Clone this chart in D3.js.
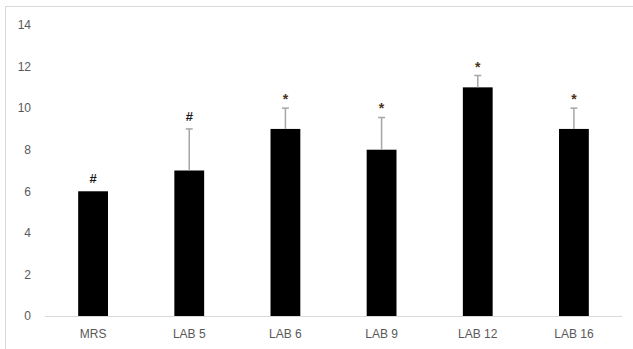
<!DOCTYPE html>
<html><head><meta charset="utf-8">
<script src="https://cdn.jsdelivr.net/npm/d3@7"></script>
<style>body{margin:0;background:#fff}svg{display:block}</style>
</head><body><svg id="c" width="633" height="349"></svg>
<script>
const categories = ["MRS", "LAB 5", "LAB 6", "LAB 9", "LAB 12", "LAB 16"];
const values = [6, 7, 9, 8, 11, 9];
const errors = [0, 2, 1, 1.55, 0.57, 1];
const markers = ["#", "#", "*", "*", "*", "*"];
const yTicks = [0, 2, 4, 6, 8, 10, 12, 14];

const svg = d3.select("#c");
const font = "'Liberation Sans', Arial, sans-serif";
svg.append("rect").attr("x", 5.5).attr("y", 6.5).attr("width", 640).attr("height", 360)
  .attr("fill", "#fff").attr("stroke", "#d9d9d9");

const x = d3.scaleBand().domain(categories).range([45, 622]).paddingInner(0.69).paddingOuter(0.345);
const y = d3.scaleLinear().domain([0, 14]).range([316, 25]);

const ya = svg.append("g").attr("transform", "translate(31,0)")
  .call(d3.axisLeft(y).tickValues(yTicks).tickSize(0).tickPadding(0));
ya.select(".domain").remove();
ya.selectAll("text").attr("fill", "#595959").attr("font-size", 12).attr("font-family", font);

svg.append("line").attr("x1", 45).attr("x2", 622).attr("y1", y(0)+0.5).attr("y2", y(0)+0.5)
  .attr("stroke", "#d9d9d9");

const xa = svg.append("g").attr("transform", "translate(0,329)")
  .call(d3.axisBottom(x).tickSize(0).tickPadding(0));
xa.select(".domain").remove();
xa.selectAll("text").attr("fill", "#595959").attr("font-size", 12).attr("font-family", font);

svg.selectAll("rect.bar").data(categories).join("rect").attr("class", "bar")
  .attr("x", d => x(d)).attr("width", x.bandwidth())
  .attr("y", (d, i) => y(values[i])).attr("height", (d, i) => y(0) - y(values[i]))
  .attr("fill", "#000");

const eg = svg.append("g").attr("stroke", "#a6a6a6").attr("stroke-width", 1.5);
categories.forEach((c, i) => {
  if (errors[i] <= 0) return;
  const cx = x(c) + x.bandwidth() / 2;
  eg.append("line").attr("x1", cx).attr("x2", cx).attr("y1", y(values[i])).attr("y2", y(values[i] + errors[i]));
  eg.append("line").attr("x1", cx - 3.5).attr("x2", cx + 3.5).attr("y1", y(values[i] + errors[i])).attr("y2", y(values[i] + errors[i]));
});

svg.selectAll("text.mk").data(categories).join("text").attr("class", "mk")
  .attr("x", d => x(d) + x.bandwidth() / 2)
  .attr("y", (d, i) => y(values[i] + errors[i]) - (markers[i] === "#" ? 8 : 4))
  .attr("text-anchor", "middle").attr("font-family", font).attr("font-weight", "bold")
  .attr("font-size", (d, i) => markers[i] === "#" ? 13 : 14)
  .attr("fill", (d, i) => markers[i] === "#" ? "#1a1a1a" : "#4a3418")
  .text((d, i) => markers[i]);
</script></body></html>
